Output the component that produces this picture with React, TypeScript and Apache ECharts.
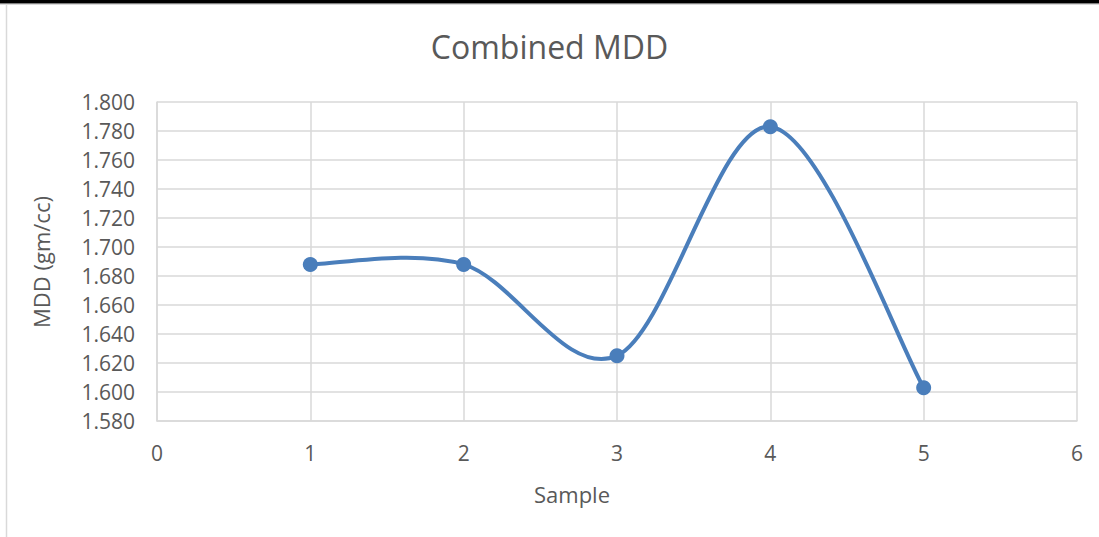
import React, { useEffect, useRef } from "react";
import * as echarts from "echarts";

const samples = [1, 2, 3, 4, 5];
const mddValues = [1.688, 1.688, 1.625, 1.783, 1.603];
const titleText = "Combined MDD";
const xAxisName = "Sample";
const yAxisName = "MDD (gm/cc)";

const FONT = "'Open Sans', 'Noto Sans', sans-serif";
const TEXT = "#595959";
const GRID = "#d9d9d9";
const BLUE = "#4a7ebb";

export default function App() {
  const ref = useRef<HTMLDivElement>(null);
  useEffect(() => {
    if (!ref.current) return;
    const chart = echarts.init(ref.current, null, { renderer: "svg" });
    const points = samples.map((s, i) => [s, mddValues[i]]);
    chart.setOption({
      animation: false,
      backgroundColor: "#ffffff",
      title: {
        text: titleText,
        left: "center",
        top: 25,
        textStyle: { fontFamily: FONT, fontSize: 32, fontWeight: "normal", color: TEXT },
      },
      graphic: [
        { type: "rect", shape: { x: 0, y: 0, width: 1099, height: 3.5 }, style: { fill: "#000" } },
        { type: "line", shape: { x1: 0, y1: 4.5, x2: 1099, y2: 4.5 }, style: { stroke: GRID, lineWidth: 1 } },
        { type: "line", shape: { x1: 6.5, y1: 4, x2: 6.5, y2: 537 }, style: { stroke: GRID, lineWidth: 1.5 } },
        {
          type: "text",
          x: 572,
          y: 494,
          style: {
            text: xAxisName,
            fontFamily: FONT,
            fontSize: 22,
            fill: TEXT,
            align: "center",
            verticalAlign: "middle",
          },
        },
        {
          type: "text",
          x: 41,
          y: 262,
          rotation: Math.PI / 2,
          style: {
            text: yAxisName,
            fontFamily: FONT,
            fontSize: 22,
            fill: TEXT,
            align: "center",
            verticalAlign: "middle",
          },
        },
      ],
      grid: { left: 157, right: 22, top: 102, bottom: 116, containLabel: false },
      xAxis: {
        type: "value",
        min: 0,
        max: 6,
        interval: 1,
        axisLine: { show: true, lineStyle: { color: GRID, width: 1.5 } },
        axisTick: { show: false },
        axisLabel: { fontFamily: FONT, fontSize: 21, color: TEXT, margin: 21 },
        splitLine: { show: true, lineStyle: { color: GRID, width: 1.5 } },
      },
      yAxis: {
        type: "value",
        min: 1.58,
        max: 1.8,
        interval: 0.02,
        axisLine: { show: true, lineStyle: { color: GRID, width: 1.5 } },
        axisTick: { show: false },
        axisLabel: {
          fontFamily: FONT,
          fontSize: 21,
          color: TEXT,
          margin: 22,
          formatter: (v: number) => v.toFixed(3),
        },
        splitLine: { show: true, lineStyle: { color: GRID, width: 1.5 } },
      },
      series: [
        {
          type: "custom",
          data: points,
          encode: { x: 0, y: 1 },
          renderItem: (params: any, api: any) => {
            if (params.dataIndex !== 0) return { type: "group", children: [] };
            const c = points.map((p) => api.coord(p));
            const n = c.length;
            let d = `M${c[0][0]},${c[0][1]}`;
            for (let i = 0; i < n - 1; i++) {
              const p0 = c[Math.max(i - 1, 0)];
              const p1 = c[i];
              const p2 = c[i + 1];
              const p3 = c[Math.min(i + 2, n - 1)];
              const cp1x = p1[0] + (p2[0] - p0[0]) / 6;
              const cp1y = p1[1] + (p2[1] - p0[1]) / 6;
              const cp2x = p2[0] - (p3[0] - p1[0]) / 6;
              const cp2y = p2[1] - (p3[1] - p1[1]) / 6;
              d += ` C${cp1x},${cp1y} ${cp2x},${cp2y} ${p2[0]},${p2[1]}`;
            }
            return {
              type: "path",
              shape: { pathData: d },
              style: { fill: "none", stroke: BLUE, lineWidth: 4 },
            };
          },
          z: 2,
        },
        {
          type: "scatter",
          data: points,
          symbol: "circle",
          symbolSize: 15,
          itemStyle: { color: BLUE, opacity: 1 },
          z: 3,
        },
      ],
    });
    return () => chart.dispose();
  }, []);
  return (
    <div
      ref={ref}
      style={{ position: "fixed", left: 0, top: 0, width: 1099, height: 537 }}
    />
  );
}
